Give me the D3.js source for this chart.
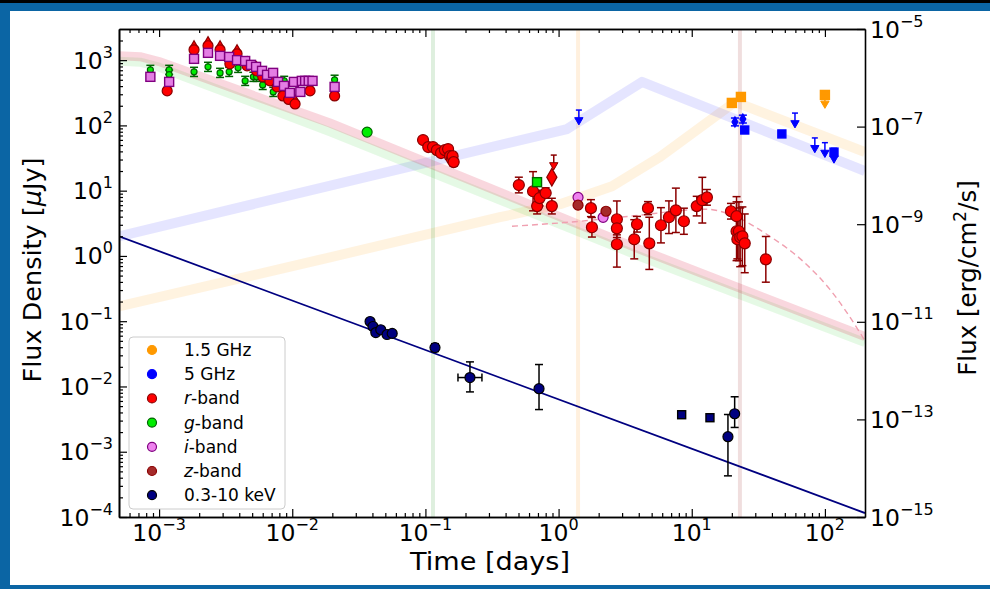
<!DOCTYPE html>
<html>
<head>
<meta charset="utf-8">
<script src="https://cdn.jsdelivr.net/npm/d3@7"></script>
<style>
body { margin: 0; background: #fff; }
svg { display: block; font-family: "DejaVu Sans", sans-serif; }
</style>
</head>
<body>
<script>
var w = 990;
var h = 589;

// ---- data: [time (days), flux (uJy), err down (dex), err up (dex)] ----
var iBandEarly = [[8.6e-4,555],[1.19e-3,464],[1.83e-3,1047],[2.33e-3,1294],[2.87e-3,1164],[3.36e-3,1120],
  [3.85e-3,1000],[4.43e-3,970],[4.9e-3,847],[5.35e-3,789],[5.93e-3,685],[6.47e-3,595],[7.18e-3,638],
  [7.82e-3,464],[8.67e-3,403],[9.6e-3,315],[1.03e-2,464],[1.15e-2,326],[1.18e-2,481],[1.25e-2,481],
  [1.33e-2,481],[1.42e-2,481],[2.08e-2,389]];
var iBandLate = [[1.40,7.9],[2.16,3.9]];
var rBandEarly = [[1.15e-3,338],[1.83e-3,1439],[2.33e-3,1660],[2.87e-3,1439],[3.4e-3,877],[3.85e-3,1250],
  [4.58e-3,817],[5.4e-3,685],[6.0e-3,555],[6.8e-3,481],[7.7e-3,389],[8.5e-3,283],[9.4e-3,250],
  [1.05e-2,213],[1.36e-2,338],[2.08e-2,283]];
var rBandMid = [[0.096,59.7],[0.105,46.6],[0.114,46.6],[0.122,41.9],[0.131,37.7],[0.14,41.9],[0.148,43.4],
  [0.153,33.8],[0.158,30.5],[0.16,33.8],[0.163,27.4,0.06]];
var rBandLate = [[0.503,12.2,0.12],[0.643,9.8,0.3],[0.69,5.8,0.12],[0.72,7.7,0.12],[0.80,9.2,0.08],
  [0.89,5.8,0.12],[1.75,5.4,0.13],[1.78,2.75,0.15],[2.74,3.65,0.28],[2.74,2.65,0.1],[2.74,1.51,0.35],
  [3.88,3.06,0.12],[3.7,1.8,0.3],[4.69,5.4,0.1],[4.8,1.56,0.4],[5.87,2.95,0.27],[6.74,3.92,0.25],
  [7.6,5.0,0.34],[8.73,3.4,0.2],[10.9,5.8,0.15],[12,7.15,0.35],[13,7.9,0.12],[19.7,4.84,0.12],
  [21.7,4.06,0.3],[21.7,2.39,0.45],[22.6,2.39,0.45],[22,1.8,0.3],[23.1,1.93,0.45],[24,2.0,0.45],
  [25,1.56,0.45],[36,0.887,0.35]];
var rBandDiamond = [[0.89,16.1]];
var rBandLimits = [[0.92,28.4]];
var gBandEarly = [[8.6e-4,709,0.07],[1.19e-3,709,0.07],[1.19e-3,600,0.07],[1.83e-3,661,0.07],[2.33e-3,789,0.07],
  [2.87e-3,638,0.07],[3.36e-3,661,0.07],[3.92e-3,762,0.07],[4.43e-3,481,0.07],[5.1e-3,555,0.07],
  [5.4e-3,555,0.07],[6.0e-3,417,0.07],[7.2e-3,326,0.07],[8.7e-3,481,0.07],[2.08e-2,500,0.07]];
var gBandCircle = [[0.0365,79]];
var gBandSquare = [[0.689,13.5]];
var zBand = [[1.40,6.0],[2.27,4.84]];
var radio15 = [[20,221],[23.4,273]];
var radio15Limits = [[100,293]];
var radio5 = [[25,85],[47.5,74],[117,39]];
var radio5Err = [[21.1,113,0.06],[24.2,125,0.06]];
var radio5Limits = [[1.42,139],[59.6,125],[84,52],[100,44],[117,36]];
// [time, flux, err down, err up, time err (dex)]
var xrayCircles = [[0.0384,0.099,0.03,0.03],[0.0404,0.083,0.03,0.03],[0.0424,0.067,0.03,0.03],
  [0.0462,0.074,0.03,0.03],[0.0515,0.0625,0.04,0.04],[0.0563,0.065,0.04,0.04],[0.118,0.0394,0.06,0.06],
  [0.216,0.0137,0.22,0.24,0.09],[0.713,0.00925,0.32,0.37],[18.7,0.0017,0.6,0.34],[21,0.00382,0.21,0.26]];
var xraySquares = [[8.4,0.00369],[13.7,0.00332]];

// model curves [time, flux]
var rModel = [[5e-4,1164],[7.2e-4,1130],[1e-3,950],[0.0192,109],[4.08,1.26],[200,0.058]];
var gModel = [[5e-4,960],[7.2e-4,930],[1e-3,780],[0.0192,80],[4.08,0.98],[200,0.047]];
var radio5Model = [[5e-4,2.0],[1.157,88],[4.23,464],[200,20]];
var radio15Model = [[5e-4,0.168],[0.0192,0.953],[0.363,3.92],[1.025,6.2],[2.52,11.7],[5.77,32.7],[21.1,229],[200,39]];
var knModel = [[0.447,2.85],[1.45,3.4],[3.44,4.06],[13,5.2],[19.2,4.35],[38.6,2.0],[68.4,0.83],[109,0.307],[183,0.067],[200,0.05]];
var xrayModel = [[5e-4,2.0],[200,1.15e-4]];

var vlineTimes = [0.114, 1.40, 23.0];
var vlineColors = ["#008000", "#ff8c00", "#8b0000"];

var xTicks = [1e-3, 1e-2, 1e-1, 1, 10, 100];
var yTicks = [1e-4, 1e-3, 1e-2, 1e-1, 1, 10, 100, 1000];
var y2Ticks = [1e-15, 1e-13, 1e-11, 1e-9, 1e-7, 1e-5];

var legendLabels = ["1.5 GHz", "5 GHz", "r-band", "g-band", "i-band", "z-band", "0.3-10 keV"];
var legendFill = ["#ff9900", "#0000ff", "#ff0000", "#00ee00", "#ee82ee", "#a52a2a", "#000080"];
var legendStroke = ["#ff9900", "#0000ff", "#8b0000", "#006400", "#800080", "#8b0000", "#000000"];

// ---- scales ----
var x = d3.scaleLog().domain([5e-4, 200]).range([119, 865]);
var y = d3.scaleLog().domain([1e-4, 3e3]).range([517, 29]);
var y2 = d3.scaleLog().domain([1e-15, 1e-5]).range([517, 29]);

var svg = d3.select("body").append("svg").attr("width", w).attr("height", h);

// frame
svg.append("rect").attr("width", w).attr("height", h).attr("fill", "#0b65a4");
svg.append("rect").attr("width", w).attr("height", 3).attr("fill", "#000");
svg.append("rect").attr("x", 10).attr("y", 11).attr("width", 980).attr("height", 574).attr("fill", "#fff");

svg.append("defs").append("clipPath").attr("id", "clip")
  .append("rect").attr("x", 119).attr("y", 29).attr("width", 746).attr("height", 488);

var plot = svg.append("g").attr("clip-path", "url(#clip)");

var line = d3.line().x(d => x(d[0])).y(d => y(d[1]));

function band(data, color, width, op) {
  plot.append("path").datum(data).attr("d", line)
    .attr("fill", "none").attr("stroke", color).attr("stroke-width", width)
    .attr("stroke-opacity", op).attr("stroke-linejoin", "round");
}

band(radio15Model, "#ff9900", 10, 0.12);
band(radio5Model, "#0000ff", 10, 0.1);
band(gModel, "#00c000", 9, 0.1);
band(rModel, "#dc143c", 9, 0.17);

plot.selectAll(".vline").data(vlineTimes).enter().append("line")
  .attr("x1", d => x(d)).attr("x2", d => x(d))
  .attr("y1", 29).attr("y2", 517)
  .attr("stroke", (d, i) => vlineColors[i]).attr("stroke-width", 4).attr("stroke-opacity", 0.13);

plot.append("path").datum(knModel)
  .attr("d", d3.line().x(d => x(d[0])).y(d => y(d[1])).curve(d3.curveMonotoneX))
  .attr("fill", "none").attr("stroke", "#f0a0b0").attr("stroke-width", 1.4)
  .attr("stroke-dasharray", "6,4");

plot.append("path").datum(xrayModel).attr("d", line)
  .attr("fill", "none").attr("stroke", "#000080").attr("stroke-width", 1.8);

// ---- marks ----
function errorBars(data, color) {
  var g = plot.append("g").attr("stroke", color).attr("stroke-width", 1.5);
  data.forEach(function (d) {
    var lo = d[2], hi = d.length > 3 ? d[3] : d[2];
    var cx = x(d[0]);
    if (lo) {
      var y0 = y(d[1] / Math.pow(10, lo)), y1 = y(d[1] * Math.pow(10, hi));
      g.append("line").attr("x1", cx).attr("x2", cx).attr("y1", y0).attr("y2", y1);
      g.append("line").attr("x1", cx - 4).attr("x2", cx + 4).attr("y1", y0).attr("y2", y0);
      g.append("line").attr("x1", cx - 4).attr("x2", cx + 4).attr("y1", y1).attr("y2", y1);
    }
    if (d[4]) {
      var x0 = x(d[0] / Math.pow(10, d[4])), x1 = x(d[0] * Math.pow(10, d[4])), cy = y(d[1]);
      g.append("line").attr("x1", x0).attr("x2", x1).attr("y1", cy).attr("y2", cy);
      g.append("line").attr("x1", x0).attr("x2", x0).attr("y1", cy - 4).attr("y2", cy + 4);
      g.append("line").attr("x1", x1).attr("x2", x1).attr("y1", cy - 4).attr("y2", cy + 4);
    }
  });
}

function circles(data, r, fill, stroke) {
  plot.append("g").selectAll("circle").data(data).enter().append("circle")
    .attr("cx", d => x(d[0])).attr("cy", d => y(d[1])).attr("r", r)
    .attr("fill", fill).attr("stroke", stroke).attr("stroke-width", 1.2);
}

function squares(data, s, fill, stroke) {
  plot.append("g").selectAll("rect").data(data).enter().append("rect")
    .attr("x", d => x(d[0]) - s / 2).attr("y", d => y(d[1]) - s / 2)
    .attr("width", s).attr("height", s)
    .attr("fill", fill).attr("stroke", stroke).attr("stroke-width", 1.4);
}

function symbols(data, type, size, dy, rot, fill, stroke) {
  plot.append("g").selectAll("path").data(data).enter().append("path")
    .attr("d", d3.symbol().type(type).size(size))
    .attr("transform", d => "translate(" + x(d[0]) + "," + (y(d[1]) + dy) + ") rotate(" + rot + ")")
    .attr("fill", fill).attr("stroke", stroke).attr("stroke-width", 1.2);
}

function limits(data, fill, stroke) {
  var g = plot.append("g").selectAll("g").data(data).enter().append("g")
    .attr("transform", d => "translate(" + x(d[0]) + "," + y(d[1]) + ")");
  g.append("line").attr("x1", -3).attr("x2", 3).attr("y1", -6).attr("y2", -6)
    .attr("stroke", stroke).attr("stroke-width", 1.5);
  g.append("line").attr("x1", 0).attr("x2", 0).attr("y1", -6).attr("y2", 2)
    .attr("stroke", stroke).attr("stroke-width", 1.5);
  g.append("path").attr("d", d3.symbol().type(d3.symbolTriangle).size(30))
    .attr("transform", "translate(0,4) rotate(180)")
    .attr("fill", fill).attr("stroke", stroke).attr("stroke-width", 1);
}

// g-band
errorBars(gBandEarly, "#006400");
circles(gBandEarly, 3, "#00ee00", "#006400");
circles(gBandCircle, 5, "#00ee00", "#006400");

// r-band early
symbols(rBandEarly, d3.symbolTriangle, 22, -5, 0, "#ff0000", "#8b0000");
circles(rBandEarly, 5, "#ff0000", "#8b0000");

// i-band early
squares(iBandEarly, 9, "#e47ee4", "#800080");

// r-band later
errorBars(rBandMid, "#8b0000");
circles(rBandMid, 5.5, "#ff0000", "#8b0000");
errorBars(rBandLate, "#8b0000");
circles(rBandLate, 5.5, "#ff0000", "#8b0000");
symbols(rBandDiamond, d3.symbolDiamond, 90, 0, 0, "#ff0000", "#8b0000");
limits(rBandLimits, "#ff0000", "#8b0000");
squares(gBandSquare, 9, "#00ee00", "#006400");
circles(iBandLate, 5, "#ee82ee", "#800080");
circles(zBand, 5, "#a52a2a", "#8b0000");

// radio
squares(radio15, 9, "#ff9900", "#ff9900");
squares(radio15Limits, 9, "#ff9900", "#ff9900");
limits(radio15Limits.map(d => [d[0], d[1] * 0.85]), "#ff9900", "#ff9900");
errorBars(radio5Err, "#0000ff");
symbols(radio5Err, d3.symbolDiamond, 30, 0, 0, "#0000ff", "#0000ff");
limits(radio5Limits, "#0000ff", "#0000ff");
squares(radio5, 8, "#0000ff", "#0000ff");

// x-ray
errorBars(xrayCircles, "#000000");
circles(xrayCircles, 5, "#000080", "#000000");
squares(xraySquares, 8, "#000080", "#000000");

// ---- axes ----
function minorTicks(domain) {
  var out = [];
  for (var e = -16; e <= 4; e++) {
    for (var k = 2; k <= 9; k++) {
      var v = k * Math.pow(10, e);
      if (v > domain[0] && v < domain[1]) out.push(v);
    }
  }
  return out;
}

function styleAxis(g) {
  g.select(".domain").attr("stroke", "#000").attr("stroke-width", 1.6);
  g.selectAll(".tick line").attr("stroke", "#000").attr("stroke-width", 1.2);
}

var xMinor = minorTicks(x.domain());
var yMinor = minorTicks(y.domain());

svg.append("g").attr("transform", "translate(0,517)")
  .call(d3.axisBottom(x).tickValues(xMinor).tickSize(-4).tickSizeOuter(0).tickFormat(""))
  .call(styleAxis);
svg.append("g").attr("transform", "translate(0,517)")
  .call(d3.axisBottom(x).tickValues(xTicks).tickSize(-8).tickSizeOuter(0).tickFormat(""))
  .call(styleAxis);
svg.append("g").attr("transform", "translate(0,29)")
  .call(d3.axisTop(x).tickValues(xMinor).tickSize(-4).tickSizeOuter(0).tickFormat(""))
  .call(styleAxis);
svg.append("g").attr("transform", "translate(0,29)")
  .call(d3.axisTop(x).tickValues(xTicks).tickSize(-8).tickSizeOuter(0).tickFormat(""))
  .call(styleAxis);
svg.append("g").attr("transform", "translate(119,0)")
  .call(d3.axisLeft(y).tickValues(yMinor).tickSize(-4).tickSizeOuter(0).tickFormat(""))
  .call(styleAxis);
svg.append("g").attr("transform", "translate(119,0)")
  .call(d3.axisLeft(y).tickValues(yTicks).tickSize(-8).tickSizeOuter(0).tickFormat(""))
  .call(styleAxis);
svg.append("g").attr("transform", "translate(865,0)")
  .call(d3.axisRight(y2).tickValues(y2Ticks).tickSize(-8).tickSizeOuter(0).tickFormat(""))
  .call(styleAxis);

function powLabel(sel, v) {
  var e = Math.round(Math.log10(v));
  sel.append("tspan").text("10");
  sel.append("tspan").attr("dy", -11).attr("font-size", 16)
    .text(e < 0 ? "\u2212" + (-e) : String(e));
}

svg.append("g").selectAll("text").data(xTicks).enter().append("text")
  .attr("x", d => x(d)).attr("y", 541).attr("text-anchor", "middle")
  .attr("font-size", 23.5).attr("fill", "#000")
  .each(function (d) { powLabel(d3.select(this), d); });

svg.append("g").selectAll("text").data(yTicks).enter().append("text")
  .attr("x", 113).attr("y", d => y(d) + 8.5).attr("text-anchor", "end")
  .attr("font-size", 23.5).attr("fill", "#000")
  .each(function (d) { powLabel(d3.select(this), d); });

svg.append("g").selectAll("text").data(y2Ticks).enter().append("text")
  .attr("x", 870).attr("y", d => y2(d) + 8.5).attr("text-anchor", "start")
  .attr("font-size", 23.5).attr("fill", "#000")
  .each(function (d) { powLabel(d3.select(this), d); });

// axis titles
svg.append("text").attr("x", 490).attr("y", 570).attr("text-anchor", "middle")
  .attr("font-size", 24).attr("textLength", 160).attr("lengthAdjust", "spacingAndGlyphs")
  .text("Time [days]");

var ll = svg.append("text").attr("transform", "translate(41,270) rotate(-90)")
  .attr("text-anchor", "middle").attr("font-size", 25.5);
ll.append("tspan").text("Flux Density [");
ll.append("tspan").attr("font-style", "italic").text("\u03bc");
ll.append("tspan").text("Jy]");

var rl = svg.append("text").attr("transform", "translate(976,278) rotate(-90)")
  .attr("text-anchor", "middle").attr("font-size", 24.5);
rl.append("tspan").text("Flux [erg/cm");
rl.append("tspan").attr("dy", -10).attr("font-size", 17).text("2");
rl.append("tspan").attr("dy", 10).text("/s]");

// ---- legend ----
var lg = svg.append("g");
lg.append("rect").attr("x", 129).attr("y", 337).attr("width", 156).attr("height", 172).attr("rx", 4)
  .attr("fill", "#fff").attr("fill-opacity", 0.8).attr("stroke", "#cccccc");
legendLabels.forEach(function (t, i) {
  var cy = 350 + i * 24.2;
  lg.append("circle").attr("cx", 152).attr("cy", cy).attr("r", 4.5)
    .attr("fill", legendFill[i]).attr("stroke", legendStroke[i]).attr("stroke-width", 1.2);
  var tx = lg.append("text").attr("x", 184).attr("y", cy + 6).attr("font-size", 17).attr("fill", "#000");
  if (t.indexOf("-band") > 0) {
    tx.append("tspan").attr("font-style", "italic").text(t.charAt(0));
    tx.append("tspan").text(t.slice(1));
  } else {
    tx.text(t);
  }
});
</script>
</body>
</html>
